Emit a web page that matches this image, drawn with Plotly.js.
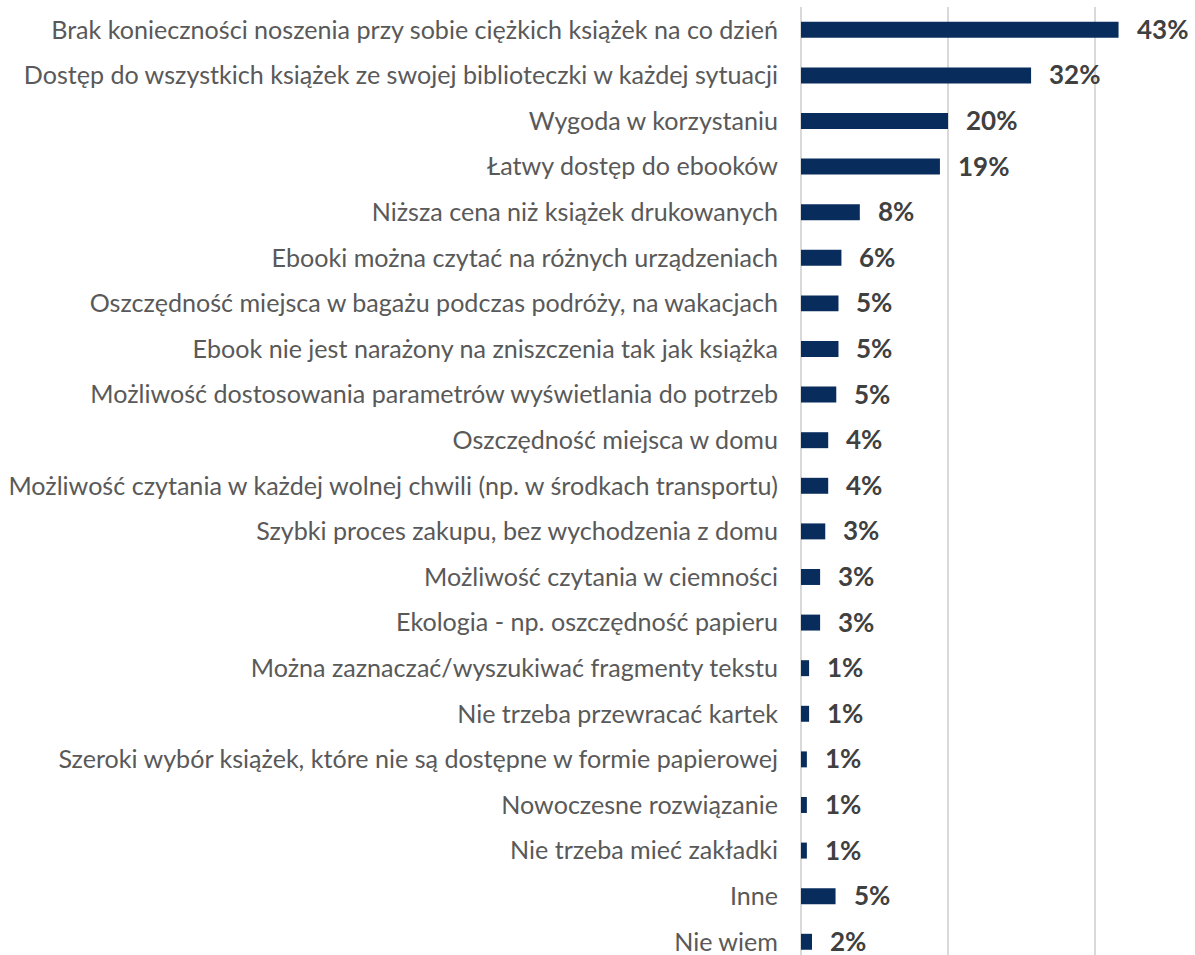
<!DOCTYPE html>
<html><head><meta charset="utf-8">
<script src="https://cdn.plot.ly/plotly-3.0.1.min.js"></script>
<style>html,body{margin:0;padding:0;background:#fff}#chart{width:1195px;height:955px}</style>
</head><body><div id="chart"></div>
<script>
const categories = [
  "Brak konieczności noszenia przy sobie ciężkich książek na co dzień",
  "Dostęp do wszystkich książek ze swojej biblioteczki w każdej sytuacji",
  "Wygoda w korzystaniu",
  "Łatwy dostęp do ebooków",
  "Niższa cena niż książek drukowanych",
  "Ebooki można czytać na różnych urządzeniach",
  "Oszczędność miejsca w bagażu podczas podróży, na wakacjach",
  "Ebook nie jest narażony na zniszczenia tak jak książka",
  "Możliwość dostosowania parametrów wyświetlania do potrzeb",
  "Oszczędność miejsca w domu",
  "Możliwość czytania w każdej wolnej chwili (np. w środkach transportu)",
  "Szybki proces zakupu, bez wychodzenia z domu",
  "Możliwość czytania w ciemności",
  "Ekologia - np. oszczędność papieru",
  "Można zaznaczać/wyszukiwać fragmenty tekstu",
  "Nie trzeba przewracać kartek",
  "Szeroki wybór książek, które nie są dostępne w formie papierowej",
  "Nowoczesne rozwiązanie",
  "Nie trzeba mieć zakładki",
  "Inne",
  "Nie wiem"
];
const values = [43.2, 31.3, 20.0, 18.9, 8.0, 5.5, 5.1, 5.1, 4.8, 3.7, 3.7, 3.3, 2.6, 2.6, 1.1, 1.1, 0.8, 0.8, 0.8, 4.7, 1.5];
const valueLabels = ["43%","32%","20%","19%","8%","6%","5%","5%","5%","4%","4%","3%","3%","3%","1%","1%","1%","1%","1%","5%","2%"];

const trace = {
  type: 'bar', orientation: 'h',
  x: values, y: categories,
  marker: {color: '#082d5d'},
  width: 0.35,
  hoverinfo: 'none'
};

const annotations = values.map((v, i) => ({
  x: v, y: categories[i], xref: 'x', yref: 'y',
  text: valueLabels[i], showarrow: false,
  xanchor: 'left', yanchor: 'middle', xshift: 16, yshift: 1,
  font: {family: 'Lato, "Open Sans", sans-serif', size: 26, color: '#404040', weight: 'bold'}
}));

const layout = {
  width: 1195, height: 955,
  margin: {l: 801, r: 0, t: 7, b: 0, pad: 0},
  paper_bgcolor: '#fff', plot_bgcolor: '#fff',
  showlegend: false,
  xaxis: {
    range: [0, 53.6], dtick: 20, tick0: 0,
    showgrid: true, gridcolor: '#d9d9d9', gridwidth: 2,
    zeroline: true, zerolinecolor: '#d9d9d9', zerolinewidth: 2,
    showticklabels: false, ticks: '', fixedrange: true
  },
  yaxis: {
    type: 'category',
    range: [20.29, -0.5],
    showgrid: false, zeroline: false, showline: false,
    ticks: '', ticklabelstandoff: 22,
    tickfont: {family: 'Lato, "Open Sans", sans-serif', size: 25.1, color: '#595959'},
    automargin: false, fixedrange: true
  },
  annotations: annotations
};

Plotly.newPlot('chart', [trace], layout, {displayModeBar: false, staticPlot: true});
</script>
</body></html>
